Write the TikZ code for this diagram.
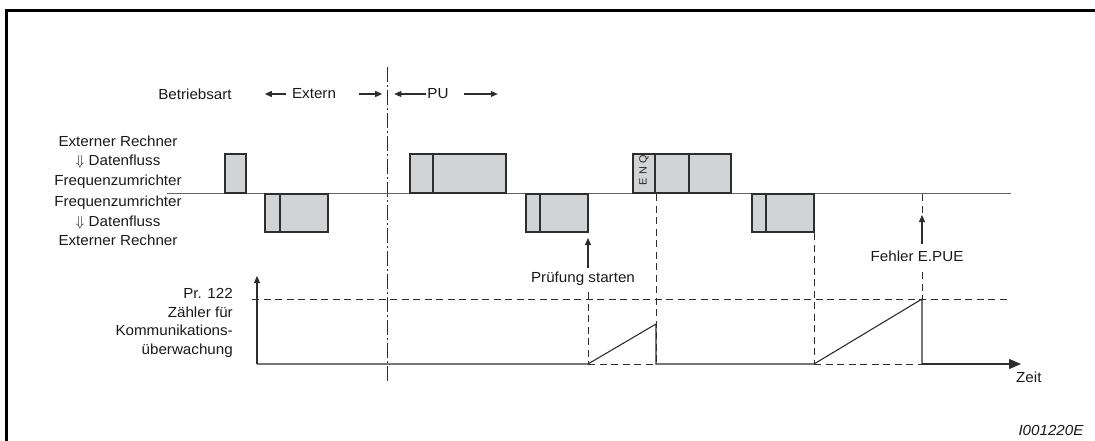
\documentclass[tikz,border=0pt]{standalone}
\usepackage{fontspec}
\setmainfont{Liberation Sans}[FakeStretch=1.04]
\usetikzlibrary{arrows.meta}
\definecolor{boxgray}{RGB}{210,211,213}
\definecolor{linegray}{RGB}{100,100,100}
\definecolor{darkline}{RGB}{45,45,45}

\begin{document}
\begin{tikzpicture}[x=1pt, y=-1pt,
    txt/.style={font=\fontsize{14.6}{19.3}\selectfont, inner sep=0pt, text=black!90},
    slot/.style={draw=darkline, fill=boxgray, line width=1.1pt},
    dsh/.style={darkline, line width=0.9pt, dash pattern=on 7pt off 4.5pt},
    sig/.style={darkline, line width=1.1pt},
    tip/.style={-{Triangle[length=7pt, width=6pt]}}]
\useasboundingbox (0,0) rectangle (1095,441);
% frame
\draw[line width=3pt] (6,441) -- (6,11) -- (1095,11);

% operating mode
\node[txt] (mode) at (195,94) {Betriebsart};
\node[txt] (ext) at (314,94) {Extern};
\node[txt] (pu) at (438,94) {PU};
\draw[sig, tip] ([xshift=-6pt]ext.west) -- ++(-21,0);
\draw[sig, tip] ([xshift=23pt]ext.east) -- ++(23,0);
\draw[sig, tip] ([xshift=-1pt]pu.west) -- ++(-32,0);
\draw[sig, tip] ([xshift=15pt]pu.east) -- ++(34,0);
\draw[darkline, line width=1pt, dash pattern=on 15pt off 3pt on 2pt off 3pt]
  (387,67) -- (387,382);

% data flow
\node[txt, align=center] (up) at (118,162) {Externer Rechner\\$\Downarrow$ Datenfluss\\Frequenzumrichter};
\node[txt, align=center] (down) at (118,221) {Frequenzumrichter\\$\Downarrow$ Datenfluss\\Externer Rechner};
\draw[linegray, line width=1.5pt] (167,193.5) -- (1011,193.5);

\draw[slot] (225,154) rectangle (246,193);
\draw[slot] (410,154) rectangle (433,193) (433,154) rectangle (506,193);
\draw[slot] (633,154) rectangle (655,193) (655,154) rectangle (689,193)
  (689,154) rectangle (731,193);
\node[rotate=90, inner sep=0pt, font=\fontsize{10.5}{11}\selectfont, text=black!85]
  (enq) at (644,170) {E\,\,N\,\,Q};

\draw[slot] (265,194) rectangle (280,232) (280,194) rectangle (328,232);
\draw[slot] (526,194) rectangle (540,232) (540,194) rectangle (588,232);
\draw[slot] (752,194) rectangle (766,232) (766,194) rectangle (814,232);

% markers
\coordinate (chk) at (588,238);
\coordinate (err) at (922,215);
\node[txt] (pruef) at (583,279) {Prüfung starten};
\node[txt] (fehler) at (917,256) {Fehler E.PUE};
\draw[sig, tip, shorten <=4pt] (pruef.north -| chk) -- (chk);
\draw[sig, tip, shorten <=6pt] (fehler.north -| err) -- (err);
\draw[dsh] (922,194) -- (err);
\draw[dsh] (922,272) -- (922,299);

% counter
\node[txt, align=right, anchor=east, font=\fontsize{14.6}{18.5}\selectfont] (cnt) at (233,323)
  {Pr. 122\\Zähler für\\Kommunikations-\\überwachung};
\coordinate (org) at (257,364);
\coordinate (ymax) at (257,276);
\coordinate (tend) at (1021,364);
\node[txt, anchor=north west] (zeit) at (1016,372) {Zeit};
\draw[sig, tip] (org) -- (ymax);
\draw[dsh] (252,299) -- (1011,299);
\draw[dsh] (588,292) -- (588,364);
\draw[dsh] (656,194) -- (656,364);
\draw[dsh] (814,233) -- (814,364);
\draw[dsh] (588,364) -- (656,364) (814,364) -- (922,364);
\draw[sig] (org) -- (588,364) -- (656,324) -- (656,364) -- (814,364)
  -- (922,299) -- (922,364);
\draw[sig, -{Triangle[length=12pt, width=10pt]}] (922,364) -- (tend);

\node[txt, font=\fontsize{14.6}{19}\selectfont\itshape] (fig) at (1051,430) {I001220E};
\end{tikzpicture}
\end{document}
